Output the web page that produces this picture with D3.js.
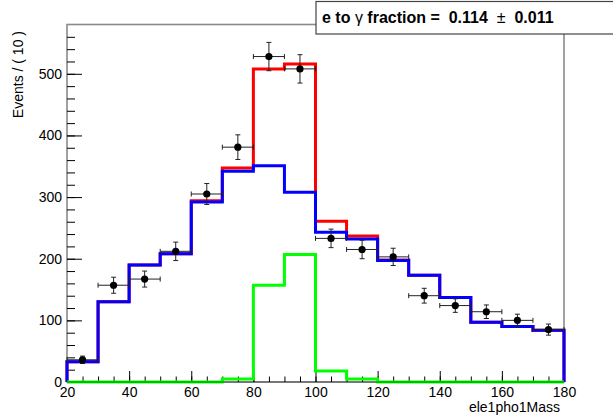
<!DOCTYPE html>
<html>
<head>
<meta charset="utf-8">
<script src="https://cdn.jsdelivr.net/npm/d3@7"></script>
<style>
  body { margin: 0; background: #fff; }
  svg text { font-family: "Liberation Sans", Arial, sans-serif; }
</style>
</head>
<body>
<div id="chart"></div>
<script>
// bin edges of ele1pho1Mass, 10 GeV wide
var binLo = [20,30,40,50,60,70,80,90,100,110,120,130,140,150,160,170];
var binW = 10;

// data points (bin centre, events, error)
var dataY   = [36,157,167,212,305,381,528,508,233,215,203,140,124,114,100,85];
var dataErr = [6,13,13,15,17,20,23,23,15,15,14,12,11,11,10,9];

// fit components
var totalFit = [33,130,190,208,294,347,508,516,261,237,198,173,137,97,90,84];
var bkgFit   = [33,130,190,208,292,342,351,308,243,232,197,173,137,97,90,84];
var sigFit   = [0,0,0,0,0,5,157,207,18,5,0,0,0,0,0,0];

var xTicks = [20,40,60,80,100,120,140,160,180];
var yTicks = [0,100,200,300,400,500];

function init() {
    var W = 613, H = 417;
    var left = 67, right = 564, top = 24.5, bottom = 382;

    var svg = d3.select("#chart").append("svg")
        .attr("width", W).attr("height", H);

    var x = d3.scaleLinear().domain([20, 180]).range([left, right]);
    var y = d3.scaleLinear().domain([0, 580]).range([bottom, top]);

    // frame
    svg.append("rect")
        .attr("x", left).attr("y", top)
        .attr("width", right - left).attr("height", bottom - top)
        .attr("fill", "none").attr("stroke", "#8a8a8a").attr("stroke-width", 1.6);

    // y axis: minor then major ticks pointing into the frame
    var yMinor = d3.range(0, 580, 20);
    svg.append("g").attr("transform", "translate(" + left + ",0)")
        .call(d3.axisLeft(y).tickValues(yMinor).tickSize(-8).tickFormat(""))
        .call(function(g) { g.select(".domain").remove(); });
    svg.append("g").attr("transform", "translate(" + left + ",0)")
        .call(d3.axisLeft(y).tickValues(yTicks).tickSize(-15).tickPadding(5))
        .call(function(g) {
            g.select(".domain").remove();
            g.selectAll("text").attr("font-size", 14).attr("fill", "#000")
                .style("font-family", "Liberation Sans, Arial, sans-serif");
        });

    // x axis
    var xMinor = d3.range(20, 181, 5);
    svg.append("g").attr("transform", "translate(0," + bottom + ")")
        .call(d3.axisBottom(x).tickValues(xMinor).tickSize(-5.5).tickFormat(""))
        .call(function(g) { g.select(".domain").remove(); });
    svg.append("g").attr("transform", "translate(0," + bottom + ")")
        .call(d3.axisBottom(x).tickValues(xTicks).tickSize(-11).tickPadding(5))
        .call(function(g) {
            g.select(".domain").remove();
            g.selectAll("text").attr("font-size", 14).attr("fill", "#000")
                .style("font-family", "Liberation Sans, Arial, sans-serif");
        });

    // step outline of a binned curve
    function stepPoints(vals) {
        var pts = [[binLo[0], 0]];
        vals.forEach(function(v, i) {
            pts.push([binLo[i], v]);
            pts.push([binLo[i] + binW, v]);
        });
        pts.push([binLo[binLo.length - 1] + binW, 0]);
        return pts;
    }
    var line = d3.line()
        .x(function(d) { return x(d[0]); })
        .y(function(d) { return y(d[1]); });

    var curves = [
        { vals: totalFit, color: "#ff0000" },
        { vals: bkgFit,   color: "#0000ff" },
        { vals: sigFit,   color: "#00ff00" }
    ];
    svg.selectAll("path.hist")
        .data(curves)
        .enter().append("path")
        .attr("class", "hist")
        .attr("d", function(d) { return line(stepPoints(d.vals)); })
        .attr("fill", "none")
        .attr("stroke", function(d) { return d.color; })
        .attr("stroke-width", 3)
        .attr("stroke-linejoin", "miter");

    // darken the baseline where the green curve sits on the axis
    svg.append("line")
        .attr("x1", left).attr("x2", right)
        .attr("y1", bottom).attr("y2", bottom)
        .attr("stroke", "#000").attr("stroke-opacity", 0.35).attr("stroke-width", 1.5);

    // data points with error bars
    var pts = dataY.map(function(v, i) {
        return { c: binLo[i] + binW / 2, lo: binLo[i], hi: binLo[i] + binW, v: v, e: dataErr[i] };
    });
    var g = svg.append("g").attr("stroke", "#222").attr("stroke-width", 1);
    var cap = 2.5;
    pts.forEach(function(p) {
        var cx = x(p.c), cy = y(p.v);
        // horizontal bar + caps
        g.append("line").attr("x1", x(p.lo)).attr("x2", x(p.hi)).attr("y1", cy).attr("y2", cy);
        g.append("line").attr("x1", x(p.lo)).attr("x2", x(p.lo)).attr("y1", cy - cap).attr("y2", cy + cap);
        g.append("line").attr("x1", x(p.hi)).attr("x2", x(p.hi)).attr("y1", cy - cap).attr("y2", cy + cap);
        // vertical bar + caps
        g.append("line").attr("x1", cx).attr("x2", cx).attr("y1", y(p.v - p.e)).attr("y2", y(p.v + p.e));
        g.append("line").attr("x1", cx - cap).attr("x2", cx + cap).attr("y1", y(p.v - p.e)).attr("y2", y(p.v - p.e));
        g.append("line").attr("x1", cx - cap).attr("x2", cx + cap).attr("y1", y(p.v + p.e)).attr("y2", y(p.v + p.e));
    });
    svg.selectAll("circle.pt")
        .data(pts)
        .enter().append("circle")
        .attr("class", "pt")
        .attr("cx", function(d) { return x(d.c); })
        .attr("cy", function(d) { return y(d.v); })
        .attr("r", 3.6)
        .attr("fill", "#000");

    // axis titles
    svg.append("text")
        .attr("transform", "translate(23,31) rotate(-90)")
        .attr("text-anchor", "end")
        .attr("font-size", 14)
        .text("Events / ( 10 )");
    svg.append("text")
        .attr("x", 560).attr("y", 412)
        .attr("text-anchor", "end")
        .attr("font-size", 14)
        .text("ele1pho1Mass");

    // result box
    svg.append("rect")
        .attr("x", 316).attr("y", 1.5)
        .attr("width", 300).attr("height", 32.5)
        .attr("fill", "#fff").attr("stroke", "#444").attr("stroke-width", 1.2);
    var t = svg.append("text")
        .attr("x", 322).attr("y", 23)
        .attr("font-size", 16)
        .attr("font-weight", "bold")
        .attr("xml:space", "preserve")
        .style("white-space", "pre");
    t.append("tspan").text("e to ");
    t.append("tspan").attr("font-weight", "normal").text("\u03b3");
    t.append("tspan").text(" fraction =  0.114  ");
    t.append("tspan").attr("font-weight", "normal").text("\u00b1");
    t.append("tspan").text("  0.011");
}
window.onload = init;
</script>
</body>
</html>
